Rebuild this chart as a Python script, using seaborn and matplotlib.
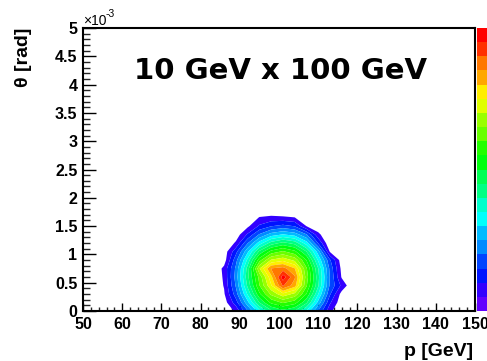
import colorsys
import numpy as np
import matplotlib
matplotlib.use("Agg")
import matplotlib.pyplot as plt
from matplotlib.colors import ListedColormap
from matplotlib.ticker import MultipleLocator, FuncFormatter
import seaborn as sns

# ---------------- data ----------------
p_gev = [83, 86, 89, 92, 95, 98, 101, 104, 107, 110, 113, 116, 119]
theta_e3 = [0.0, 0.15, 0.30, 0.45, 0.60, 0.75, 0.90, 1.05, 1.20, 1.35, 1.50, 1.65, 1.80]

row_t000 = [0.0, 0.3, 1.2, 4.0, 6.8, 8.9, 9.8, 9.1, 7.0, 4.0, 1.3, 0.0, 0.0]
row_t015 = [0.0, 0.5, 2.6, 5.8, 9.2, 11.5, 12.4, 11.7, 9.4, 5.8, 2.2, 0.3, 0.0]
row_t030 = [0.0, 0.9, 3.6, 7.3, 11.0, 13.5, 15.0, 14.0, 11.2, 7.2, 3.2, 0.6, 0.0]
row_t045 = [0.0, 1.1, 4.2, 8.4, 12.2, 15.2, 18.5, 16.8, 12.4, 8.3, 3.9, 1.8, 0.0]
row_t060 = [0.0, 1.2, 4.5, 8.9, 12.6, 16.0, 20.0, 17.5, 12.8, 8.5, 4.0, 0.9, 0.0]
row_t075 = [0.0, 1.3, 4.3, 8.6, 14.2, 17.4, 17.8, 16.4, 12.4, 8.2, 3.8, 0.7, 0.0]
row_t090 = [0.0, 0.5, 3.7, 7.4, 11.8, 14.4, 15.0, 14.0, 11.2, 7.0, 3.2, 0.4, 0.0]
row_t105 = [0.0, 0.4, 2.7, 5.9, 9.4, 11.6, 12.4, 11.5, 9.2, 5.6, 0.9, 0.0, 0.0]
row_t120 = [0.0, 0.0, 1.2, 4.0, 6.6, 8.6, 9.5, 8.8, 6.6, 3.0, 0.0, 0.0, 0.0]
row_t135 = [0.0, 0.0, 0.4, 2.2, 4.2, 5.6, 6.2, 5.7, 4.2, 1.3, 0.0, 0.0, 0.0]
row_t150 = [0.0, 0.0, 0.0, 0.8, 2.2, 3.0, 3.4, 3.0, 1.0, 0.3, 0.0, 0.0, 0.0]
row_t165 = [0.0, 0.0, 0.0, 0.0, 1.1, 1.3, 1.2, 1.05, 0.2, 0.0, 0.0, 0.0, 0.0]
row_t180 = [0.0, 0.0, 0.0, 0.0, 0.0, 0.0, 0.0, 0.0, 0.0, 0.0, 0.0, 0.0, 0.0]

x_range = [50, 150]
y_range = [0, 5]
title_text = "10 GeV x 100 GeV"
x_title = "p [GeV]"
y_title = "\u03b8 [rad]"

n_levels = 20
z_max = 20.4

# ---------------- styling ----------------
sns.set_theme(style="white")
plt.rcParams["font.family"] = ["Liberation Sans", "DejaVu Sans"]

W, H = 487, 361
fig = plt.figure(figsize=(W / 100, H / 100), dpi=100)
fig.patch.set_facecolor("white")

ax_l, ax_r, ax_t, ax_b = 83, 475, 28, 311
ax = fig.add_axes([ax_l / W, 1 - ax_b / H, (ax_r - ax_l) / W, (ax_b - ax_t) / H])
ax.set_facecolor("white")

# ROOT "pretty" palette: 50 hues from violet to red, 20 contour colours
def root_color(j):
    idx = int((j + 0.99) * 50 / n_levels)
    hue = 280 - (idx + 1) * 280 / 50
    return colorsys.hsv_to_rgb(hue / 360.0, 1.0, 1.0)

colors = [root_color(j) for j in range(n_levels)]
levels = np.linspace(0, z_max, n_levels + 1)

counts = np.array([row_t000, row_t015, row_t030, row_t045, row_t060, row_t075,
                   row_t090, row_t105, row_t120, row_t135, row_t150, row_t165,
                   row_t180])
P, T = np.meshgrid(p_gev, theta_e3)
ax.contourf(P, T, counts, levels=levels[1:], colors=colors[1:], antialiased=True)

ax.set_xlim(*x_range)
ax.set_ylim(*y_range)

for s in ax.spines.values():
    s.set_visible(True)
    s.set_color("black")
    s.set_linewidth(1.5)

ax.xaxis.set_major_locator(MultipleLocator(10))
ax.xaxis.set_minor_locator(MultipleLocator(2))
ax.yaxis.set_major_locator(MultipleLocator(0.5))
ax.yaxis.set_minor_locator(MultipleLocator(0.1))
ax.yaxis.set_major_formatter(FuncFormatter(lambda v, pos: "%g" % v))
ax.xaxis.set_major_formatter(FuncFormatter(lambda v, pos: "%g" % v))

ax.tick_params(axis="x", which="major", direction="in", length=6, width=1,
               bottom=True, top=False, pad=4.5, labelsize=11.5, colors="black")
ax.tick_params(axis="x", which="minor", direction="in", length=3, width=1,
               bottom=True, top=False)
ax.tick_params(axis="y", which="major", direction="in", length=9.5, width=1,
               left=True, right=False, pad=4, labelsize=11.5, colors="black")
ax.tick_params(axis="y", which="minor", direction="in", length=5, width=1,
               left=True, right=False)
for lab in ax.get_xticklabels() + ax.get_yticklabels():
    lab.set_fontweight("bold")

# axis titles
fig.text(24 / W, 1 - 28 / H, y_title, rotation=90, ha="center", va="top",
         fontsize=14, fontweight="bold", color="black")
fig.text(473 / W, 1 - 356 / H, x_title, ha="right", va="baseline",
         fontsize=14, fontweight="bold", color="black")

# exponent marker
fig.text(83 / W, 1 - 25 / H, "\u00d710", ha="left", va="baseline",
         fontsize=10, color="black")
fig.text(106 / W, 1 - 17 / H, "-3", ha="left", va="baseline",
         fontsize=7.5, color="black")

# title
fig.text(280 / W, 1 - 71 / H, title_text, ha="center", va="center",
         fontsize=21, fontweight="bold", color="black",
         family=["DejaVu Sans"])

# colour palette box (cut by figure edge)
cax = fig.add_axes([477 / W, 1 - ax_b / H, 16 / W, (ax_b - ax_t) / H])
cax.pcolormesh([0, 1], levels, np.arange(n_levels).reshape(-1, 1),
               cmap=ListedColormap(colors), vmin=-0.5, vmax=n_levels - 0.5)
cax.set_axis_off()

fig.savefig("out.png", dpi=100)
